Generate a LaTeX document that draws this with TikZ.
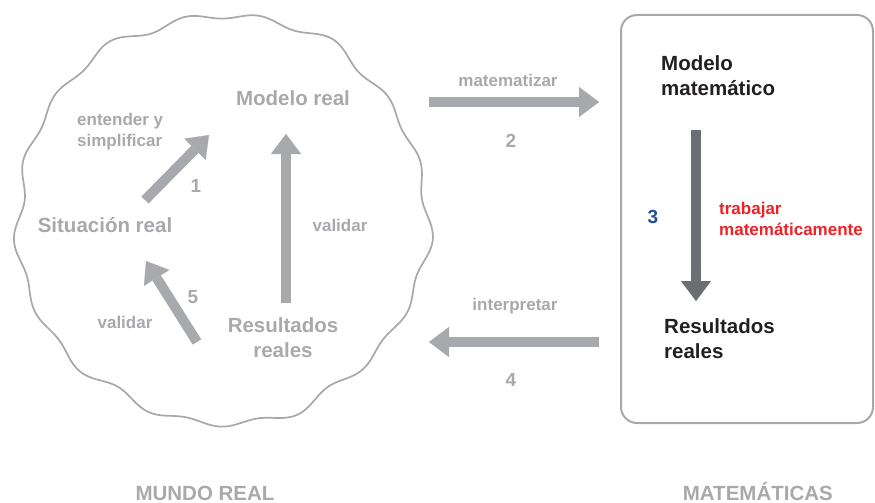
\documentclass[tikz,border=0pt]{standalone}
\usepackage{fontspec}
\setmainfont{Liberation Sans}
\usetikzlibrary{arrows.meta}
\definecolor{grisclaro}{HTML}{A7A9AC}
\definecolor{grisborde}{HTML}{A8A8A8}
\definecolor{grisoscuro}{HTML}{6D6E71}
\definecolor{negro}{HTML}{231F20}
\definecolor{azul}{HTML}{1F4E9C}
\definecolor{rojo}{HTML}{EC2227}
\tikzset{
	flecha/.style={line width=10pt, draw=grisclaro, -{Triangle[width=30pt,length=20pt,line width=0.1pt]}},
	grande/.style={inner sep=0pt, font=\fontsize{20.5}{25}\selectfont\bfseries},
	chico/.style={inner sep=0pt, font=\fontsize{17}{21}\selectfont\bfseries},
}
\begin{document}
\begin{tikzpicture}[x=1pt, y=-1pt, line join=round]
	\useasboundingbox (0,0) rectangle (875,503);
	%mundo real: contorno ondulado
	\draw[grisborde, line width=1.7pt, smooth, samples=361, domain=0:360, variable=\t]
	plot ({222+(205+3.5*sin(17*\t)+1.5*sin(11*\t+20)+2*sin(5*\t+40))*cos(\t)},{219+(204+3.5*sin(17*\t)+1.5*sin(11*\t+20)+2*sin(5*\t+40))*sin(\t)}) -- cycle;
	%matematicas: caja
	\draw[grisborde, line width=2pt, rounded corners=16pt] (621,15) rectangle (873,423);
	\path
	(145,200) coordinate (P1) (209,135) coordinate (Q1)
	(429,102) coordinate (P2) (599,102) coordinate (Q2)
	(696,130) coordinate (P3) (696,301) coordinate (Q3)
	(599,342) coordinate (P4) (429,342) coordinate (Q4)
	(197,342) coordinate (P5) (146,261) coordinate (Q5)
	(286,303) coordinate (PV) (286,134) coordinate (QV)
	;
	\foreach \p/\q in {P1/Q1, P2/Q2, P4/Q4, P5/Q5, PV/QV}
	\draw[flecha] (\p) -- (\q);
	\draw[flecha, draw=grisoscuro] (P3) -- (Q3);
	%textos del mundo real
	\node[grande, text=grisclaro, anchor=base] (modreal) at (293,105) {Modelo real};
	\node[grande, text=grisclaro, anchor=base] (sitreal) at (105,232) {Situación real};
	\node[grande, text=grisclaro, align=center] (resreal) at (283,338) {Resultados\\reales};
	\node[chico, text=grisclaro, align=left, anchor=north west] (entender) at (77,113) {entender y\\simplificar};
	\node[chico, text=grisclaro, anchor=base] (validar1) at (340,231) {validar};
	\node[chico, text=grisclaro, anchor=base] (validar2) at (125,328) {validar};
	\node[chico, text=grisclaro, anchor=base] (matematizar) at (508,86) {matematizar};
	\node[chico, text=grisclaro, anchor=base] (interpretar) at (515,310) {interpretar};
	\foreach \n/\x/\y in {1/196/192, 5/193/303, 2/511/147, 4/511/386}
	\node[grande, font=\fontsize{19}{19}\selectfont\bfseries, text=grisclaro, anchor=base] (num\n) at (\x,\y) {\n};
	%textos de las matematicas
	\node[grande, text=negro, align=left, anchor=north west] (modmat) at (661,55) {Modelo\\matemático};
	\node[grande, text=negro, align=left, anchor=north west] (resmat) at (664,318) {Resultados\\reales};
	\node[chico, text=rojo, align=left, anchor=north west] (trabajar) at (719,202) {trabajar\\matemáticamente};
	\node[grande, font=\fontsize{19}{19}\selectfont\bfseries, text=azul, anchor=base] (num3) at (653,223) {3};
	%titulos
	\node[grande, text=grisclaro, anchor=base] (mundo) at (205,500) {MUNDO REAL};
	\node[grande, text=grisclaro, anchor=base east] (mate) at (833,500) {MATEMÁTICAS};
\end{tikzpicture}
\end{document}
